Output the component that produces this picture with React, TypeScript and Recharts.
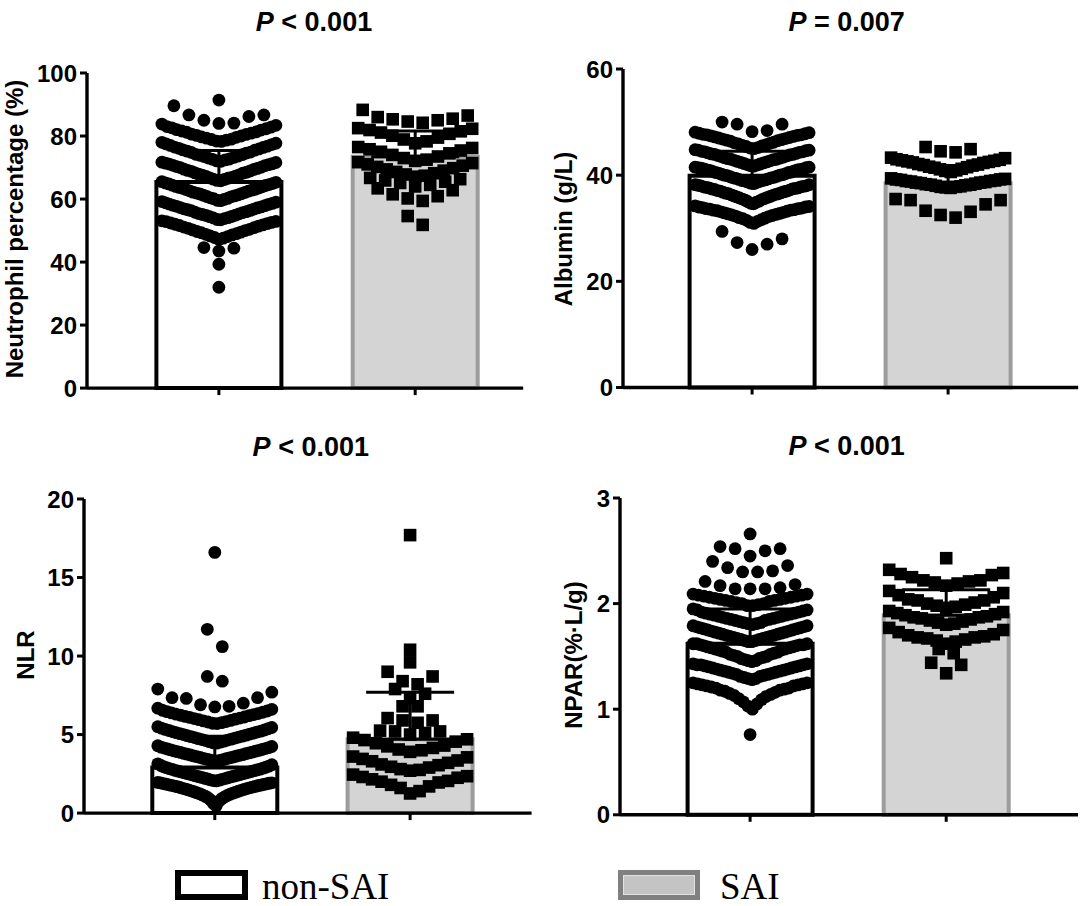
import React from "react";
import { ComposedChart, ReferenceArea, Scatter, ErrorBar, XAxis, YAxis } from "recharts";

// ---- data ----
const categories = ["non-SAI", "SAI"];

const neutroTicks = [0, 20, 40, 60, 80, 100];
const neutroMean = [65.4, 73.4];
const neutroSd = [10.0, 8.2];
const neutroNon = [
  91.4, 89.6, 86.7, 86.7, 86.2, 85.0, 84.0, 84.1,
  78.3, 78.4, 78.7, 78.9, 79.0, 79.3, 79.6, 79.7, 80.0, 80.2, 80.5, 80.6, 80.9, 81.2, 81.3, 81.6, 81.9, 82.0, 82.3, 82.6, 82.8, 83.0, 83.4, 83.8,
  72.0, 72.1, 72.4, 72.6, 72.7, 73.0, 73.2, 73.5, 73.6, 73.9, 74.1, 74.2, 74.6, 74.8, 74.9, 75.2, 75.5, 75.6, 75.9, 76.1, 76.4, 76.5, 76.8, 77.0, 77.3, 77.5, 77.7, 78.0,
  65.8, 65.9, 66.2, 66.3, 66.6, 66.7, 66.9, 67.2, 67.3, 67.6, 67.7, 67.9, 68.2, 68.3, 68.5, 68.8, 68.9, 69.1, 69.4, 69.5, 69.7, 70.0, 70.1, 70.3, 70.6, 70.7, 70.9, 71.1, 71.2, 71.4, 71.6, 71.7,
  59.5, 59.6, 59.9, 60.1, 60.2, 60.4, 60.7, 60.8, 61.0, 61.2, 61.3, 61.6, 61.7, 61.9, 62.1, 62.2, 62.5, 62.6, 62.8, 63.0, 63.1, 63.4, 63.5, 63.7, 63.9, 64.0, 64.3, 64.4, 64.6, 64.8, 64.9, 65.1, 65.3, 65.5,
  53.4, 53.5, 53.8, 54.0, 54.1, 54.4, 54.5, 54.8, 54.9, 55.1, 55.3, 55.4, 55.7, 55.8, 56.0, 56.3, 56.4, 56.6, 56.8, 56.9, 57.2, 57.3, 57.5, 57.7, 57.9, 58.0, 58.3, 58.4, 58.6, 58.8, 59.0, 59.2,
  47.2, 47.6, 47.8, 48.1, 48.3, 48.6, 48.8, 49.0, 49.3, 49.5, 49.7, 50.0, 50.2, 50.4, 50.7, 50.9, 51.1, 51.4, 51.6, 51.8, 52.0, 52.2, 52.4, 52.6, 52.8, 52.9, 53.1,
  44.6, 43.5, 44.4, 39.3, 32.0,
];
const neutroSai = [
  88.3, 86.5, 86.0, 85.5, 85.3, 85.0, 84.6, 84.2,
  82.5, 82.3, 81.9, 81.5, 81.1, 80.7, 80.1, 79.5, 78.9, 78.3, 77.7,
  76.5, 76.2, 75.8, 75.4, 75.0, 74.5, 74.0, 73.5, 73.0, 72.5, 72.1,
  71.7, 71.4, 71.0, 70.6, 70.2, 69.8, 69.4, 69.0, 68.6, 68.2, 67.8, 67.4, 67.1,
  66.7, 66.3, 65.9, 65.5, 65.1, 64.5, 64.0,
  63.4, 62.8, 61.5, 60.9, 60.2, 59.4,
  54.6, 51.8,
];

const albTicks = [0, 20, 40, 60];
const albMean = [39.9, 38.5];
const albSd = [4.6, 3.3];
const albNon = [
  50.0, 49.6, 49.6, 48.4, 48.2,
  45.0, 45.1, 45.2, 45.4, 45.5, 45.6, 45.7, 45.9, 46.0, 46.1, 46.2, 46.4, 46.5, 46.6, 46.7, 46.8, 46.9, 47.0, 47.1, 47.2, 47.3, 47.4, 47.5, 47.6, 47.6, 47.7, 47.8, 47.9, 48.0, 48.1,
  41.7, 41.8, 41.9, 42.0, 42.1, 42.2, 42.3, 42.4, 42.5, 42.6, 42.7, 42.8, 42.9, 43.0, 43.0, 43.1, 43.2, 43.3, 43.4, 43.5, 43.6, 43.7, 43.8, 43.9, 43.9, 44.0, 44.1, 44.2, 44.3, 44.4, 44.4, 44.5, 44.6, 44.7, 44.7, 44.8,
  38.4, 38.5, 38.6, 38.7, 38.8, 38.9, 39.0, 39.0, 39.1, 39.2, 39.3, 39.4, 39.5, 39.5, 39.6, 39.7, 39.8, 39.9, 40.0, 40.0, 40.1, 40.2, 40.3, 40.4, 40.5, 40.5, 40.6, 40.7, 40.8, 40.9, 41.0, 41.0, 41.1, 41.2, 41.2, 41.3, 41.4, 41.4, 41.5, 41.5,
  34.6, 34.7, 34.9, 35.0, 35.1, 35.3, 35.4, 35.5, 35.6, 35.7, 35.8, 35.9, 36.0, 36.1, 36.2, 36.3, 36.4, 36.5, 36.5, 36.6, 36.7, 36.8, 36.9, 37.0, 37.0, 37.1, 37.2, 37.3, 37.4, 37.4, 37.5, 37.6, 37.6, 37.7, 37.8, 37.8, 37.9, 38.0, 38.0, 38.1, 38.2, 38.2,
  30.9, 31.1, 31.3, 31.5, 31.6, 31.8, 31.9, 32.0, 32.2, 32.3, 32.4, 32.5, 32.6, 32.7, 32.8, 32.9, 33.0, 33.1, 33.2, 33.3, 33.4, 33.4, 33.5, 33.6, 33.7, 33.7, 33.8, 33.9, 34.0, 34.0, 34.1, 34.2,
  29.4, 28.0, 27.3, 27.0, 26.0,
];
const albSai = [
  45.3, 44.9, 44.5, 44.3,
  40.6, 40.8, 40.9, 41.1, 41.2, 41.4, 41.5, 41.6, 41.8, 41.9, 42.0, 42.1, 42.3, 42.4, 42.5, 42.6, 42.7, 42.8, 42.9, 43.0, 43.2, 43.3,
  37.6, 37.7, 37.8, 37.8, 37.9, 38.0, 38.1, 38.2, 38.2, 38.3, 38.4, 38.5, 38.6, 38.6, 38.7, 38.8, 38.9, 38.9, 39.0, 39.1, 39.2, 39.2, 39.3, 39.4,
  35.5, 35.3, 35.3, 34.5, 33.3, 33.1, 32.5, 32.0,
];

const nlrTicks = [0, 5, 10, 15, 20];
const nlrMean = [2.9, 4.7];
const nlrSd = [2.0, 3.0];
const nlrNon = [
  16.6, 11.7, 10.6, 8.7, 8.4,
  7.9, 7.7, 7.35, 7.35, 7.3, 7.0, 6.9, 6.8, 6.76,
  5.70, 5.72, 5.76, 5.80, 5.83, 5.87, 5.90, 5.95, 5.98, 6.02, 6.05, 6.09, 6.12, 6.16, 6.20, 6.23, 6.27, 6.30, 6.34, 6.38, 6.42, 6.46, 6.50, 6.55, 6.61, 6.68,
  4.45, 4.48, 4.52, 4.55, 4.58, 4.62, 4.65, 4.68, 4.71, 4.74, 4.78, 4.81, 4.84, 4.87, 4.90, 4.93, 4.96, 5.00, 5.03, 5.06, 5.09, 5.12, 5.16, 5.19, 5.22, 5.26, 5.29, 5.33, 5.37, 5.41, 5.45, 5.50,
  3.30, 3.33, 3.35, 3.38, 3.40, 3.43, 3.46, 3.48, 3.51, 3.54, 3.56, 3.59, 3.62, 3.64, 3.67, 3.70, 3.72, 3.75, 3.78, 3.80, 3.83, 3.86, 3.88, 3.91, 3.94, 3.96, 3.99, 4.02, 4.05, 4.08, 4.11, 4.14, 4.17, 4.20, 4.24, 4.29,
  2.05, 2.07, 2.10, 2.12, 2.15, 2.17, 2.20, 2.22, 2.25, 2.27, 2.30, 2.32, 2.35, 2.37, 2.40, 2.42, 2.45, 2.47, 2.50, 2.52, 2.55, 2.57, 2.60, 2.62, 2.65, 2.67, 2.70, 2.72, 2.75, 2.78, 2.80, 2.83, 2.86, 2.89, 2.92, 2.95, 2.99, 3.03, 3.08, 3.14,
  0.45, 0.62, 0.75, 0.84, 0.92, 0.98, 1.03, 1.08, 1.12, 1.16, 1.20, 1.24, 1.27, 1.30, 1.33, 1.36, 1.39, 1.42, 1.45, 1.48, 1.51, 1.53, 1.56, 1.58, 1.61, 1.63, 1.65, 1.68, 1.70, 1.72, 1.74, 1.76, 1.78, 1.80, 1.82, 1.84, 1.86, 1.88, 1.90, 1.92, 1.93, 1.95,
];
const nlrSai = [
  17.7, 10.4, 9.6, 9.0, 8.7, 8.4, 8.2, 7.9, 7.6, 7.3, 6.8, 6.8,
  6.05, 5.9, 5.9, 5.75, 5.25, 5.2, 5.2, 5.1, 5.0,
  4.8, 4.7, 4.65, 4.55, 4.45, 4.3, 4.25, 4.15, 4.05, 4.0, 3.9,
  3.6, 3.55, 3.45, 3.35, 3.3, 3.2, 3.1, 3.05, 2.95, 2.9, 2.8, 2.75, 2.7,
  2.45, 2.35, 2.3, 2.25, 2.15, 2.05, 2.0, 1.95, 1.8, 1.7, 1.6, 1.4, 1.25,
];

const nparTicks = [0, 1, 2, 3];
const nparMean = [1.62, 1.89];
const nparSd = [0.33, 0.24];
const nparNon = [
  2.66, 2.54, 2.52, 2.52, 2.50, 2.45,
  2.40, 2.36, 2.34, 2.31, 2.30, 2.30,
  2.21, 2.18, 2.17, 2.15, 2.14, 2.14, 2.14,
  1.98, 1.98, 1.99, 2.00, 2.00, 2.01, 2.02, 2.02, 2.03, 2.03, 2.04, 2.04, 2.05, 2.05, 2.06, 2.06, 2.07, 2.07, 2.08, 2.08, 2.09, 2.09,
  1.80, 1.81, 1.81, 1.82, 1.82, 1.83, 1.84, 1.84, 1.85, 1.85, 1.86, 1.86, 1.87, 1.87, 1.88, 1.88, 1.89, 1.89, 1.90, 1.90, 1.91, 1.91, 1.92, 1.92, 1.93, 1.94, 1.94, 1.95,
  1.64, 1.64, 1.65, 1.65, 1.66, 1.66, 1.67, 1.67, 1.68, 1.68, 1.69, 1.69, 1.70, 1.70, 1.71, 1.71, 1.72, 1.72, 1.73, 1.73, 1.74, 1.74, 1.75, 1.75, 1.76, 1.76, 1.77, 1.77, 1.78, 1.78, 1.79, 1.79,
  1.45, 1.46, 1.46, 1.47, 1.48, 1.48, 1.49, 1.50, 1.50, 1.51, 1.52, 1.52, 1.53, 1.54, 1.54, 1.55, 1.56, 1.56, 1.57, 1.57, 1.58, 1.58, 1.59, 1.59, 1.60, 1.60, 1.61, 1.61, 1.61, 1.62, 1.62, 1.62,
  1.28, 1.29, 1.29, 1.30, 1.31, 1.31, 1.32, 1.33, 1.33, 1.34, 1.34, 1.35, 1.35, 1.36, 1.36, 1.37, 1.37, 1.38, 1.38, 1.39, 1.39, 1.40, 1.40, 1.41, 1.41, 1.42, 1.42, 1.42, 1.43, 1.43,
  1.00, 1.03, 1.05, 1.07, 1.09, 1.10, 1.12, 1.13, 1.14, 1.15, 1.16, 1.17, 1.18, 1.18, 1.19, 1.20, 1.20, 1.21, 1.22, 1.22, 1.23, 1.23, 1.24, 1.24, 1.25, 1.25,
  0.76,
];
const nparSai = [
  2.43,
  2.32, 2.29, 2.28, 2.27, 2.25, 2.22, 2.22, 2.21, 2.20, 2.19, 2.17,
  2.12, 2.10, 2.08, 2.06, 2.04, 2.03, 2.03, 2.01, 2.00, 1.99, 1.98, 1.97, 1.96,
  1.93, 1.92, 1.91, 1.90, 1.89, 1.88, 1.87, 1.87, 1.86, 1.85, 1.84, 1.83, 1.82, 1.81, 1.80,
  1.77, 1.75, 1.73, 1.71, 1.70, 1.69, 1.68, 1.68, 1.67, 1.66, 1.65, 1.64, 1.62,
  1.57, 1.53,
  1.44, 1.42, 1.34,
];

// ---- layout ----
const FONT = "'Liberation Sans', Arial, Helvetica, sans-serif";
const SERIF = "'Liberation Serif', 'Times New Roman', serif";
const Y_W = 80;
const M_T = 22;
const M_R = 6;
const X_H = 22;
const BAR_PX = 125; // bar width in px (stroke centred on the edge)
const MAX_STEP = 15; // px between neighbours in a swarm row
const MAX_HALF = 57; // px, half width a row may spread to
const BAR_FILL = ["#ffffff", "#d4d4d4"];
const BAR_STROKE = ["#000000", "#9c9c9c"];

// row boundaries used to stack the dots the way Prism does
const neutroEdges = [
  [29, 35.5, 41, 47, 53.3, 59.35, 65.65, 71.85, 78.15, 83.95, 90.5, 96],
  [48, 58, 63.7, 66.9, 71.9, 76.8, 83.0, 92],
];
const albEdges = [
  [25, 29.6, 34.45, 38.3, 41.6, 44.9, 48.15, 52],
  [31, 37.5, 40.4, 43.6, 47],
];
const nlrEdges = [
  [0, 2.0, 3.2, 4.35, 5.6, 6.72, 8.0, 9.5, 13, 18],
  [1.0, 2.6, 3.75, 4.9, 5.5, 6.3, 7.0, 8.1, 9.3, 10.0, 11.0, 19],
];
const nparEdges = [
  [0.6, 0.98, 1.27, 1.44, 1.63, 1.795, 1.97, 2.1, 2.25, 2.43, 2.6, 2.8],
  [1.3, 1.45, 1.6, 1.78, 1.95, 2.15, 2.38, 2.6],
];

type PanelSpec = {
  key: string;
  left: number;
  right: number;
  top: number;
  bottom: number;
  tick1: number;
  tick2: number;
  yMax: number;
  ticks: number[];
  mean: number[];
  sd: number[];
  values: number[][];
  edges: number[][];
  pText: string;
  titleX: number;
  titleY: number;
  label: string;
  labelX: number;
  labelY: number;
};

const PANELS: PanelSpec[] = [
  {
    key: "neutro", left: 86.8, right: 523, top: 73.3, bottom: 388.4, tick1: 218.7, tick2: 415,
    yMax: 100, ticks: neutroTicks, mean: neutroMean, sd: neutroSd, values: [neutroNon, neutroSai], edges: neutroEdges,
    pText: " < 0.001", titleX: 314, titleY: 31, label: "Neutrophil percentage (%)", labelX: 22.5, labelY: 229,
  },
  {
    key: "alb", left: 622.6, right: 1077.8, top: 69.4, bottom: 387.9, tick1: 751.7, tick2: 947.7,
    yMax: 60, ticks: albTicks, mean: albMean, sd: albSd, values: [albNon, albSai], edges: albEdges,
    pText: " = 0.007", titleX: 846.7, titleY: 31.2, label: "Albumin (g/L)", labelX: 571.5, labelY: 229,
  },
  {
    key: "nlr", left: 84.4, right: 532, top: 498.5, bottom: 812.6, tick1: 215.2, tick2: 410.5,
    yMax: 20, ticks: nlrTicks, mean: nlrMean, sd: nlrSd, values: [nlrNon, nlrSai], edges: nlrEdges,
    pText: " < 0.001", titleX: 310.8, titleY: 456, label: "NLR", labelX: 33.5, labelY: 655,
  },
  {
    key: "npar", left: 619.8, right: 1077.8, top: 498.1, bottom: 814.9, tick1: 749.9, tick2: 946,
    yMax: 3, ticks: nparTicks, mean: nparMean, sd: nparSd, values: [nparNon, nparSai], edges: nparEdges,
    pText: " < 0.001", titleX: 846.7, titleY: 454.7, label: "NPAR(%·L/g)", labelX: 582, labelY: 655,
  },
];

// scatter-dot-plot layout: values in a row are sorted and fanned out from the centre
function swarm(values: number[], edges: number[], center: number, pxPerUnit: number) {
  const bins: number[][] = edges.slice(1).map(() => []);
  values.forEach((v) => {
    let i = bins.findIndex((_, k) => v >= edges[k] && v < edges[k + 1]);
    if (i < 0) i = v < edges[0] ? 0 : bins.length - 1;
    bins[i].push(v);
  });
  const pts: { x: number; y: number }[] = [];
  bins.forEach((b) => {
    b.sort((a, c) => a - c);
    const n = b.length;
    const step = n > 1 ? Math.min(MAX_STEP, (2 * MAX_HALF) / (n - 1)) : 0;
    b.forEach((v, i) => {
      const mag = n % 2 ? Math.ceil(i / 2) : Math.floor(i / 2) + 0.5;
      const side = (n - 1 - i) % 2 === 0 ? -1 : 1;
      pts.push({ x: center + (side * mag * step) / pxPerUnit, y: v });
    });
  });
  return pts;
}

const Dot = (props: any) => <circle cx={props.cx} cy={props.cy} r={6.4} fill="#000" />;
const Square = (props: any) => (
  <rect x={props.cx - 6.3} y={props.cy - 6.3} width={12.6} height={12.6} fill="#000" />
);
const Hidden = () => <g />;

function YTick(props: any) {
  const { x, y, payload } = props;
  return (
    <text x={x} y={y} dy="0.36em" textAnchor="end" fontFamily={FONT} fontWeight={700} fontSize={24} fill="#000">
      {payload.value}
    </text>
  );
}

function Panel({ p }: { p: PanelSpec }) {
  const u = p.tick2 - p.tick1;
  const xDomain = [1 - (p.tick1 - p.left) / u, 2 + (p.right - p.tick2) / u];
  const half = BAR_PX / 2 / u;
  // error bars point upwards only, as in the figure
  const barData = categories.map((c, i) => ({ name: c, x: i + 1, y: p.mean[i], err: [0, p.sd[i]] }));
  const nonPts = swarm(p.values[0], p.edges[0], 1, u);
  const saiPts = swarm(p.values[1], p.edges[1], 2, u);
  const w = Y_W + (p.right - p.left) + M_R;
  const h = M_T + (p.bottom - p.top) + X_H;

  return (
    <div style={{ position: "absolute", left: p.left - Y_W, top: p.top - M_T }}>
      <ComposedChart width={w} height={h} data={barData} margin={{ top: M_T, right: M_R, bottom: 0, left: 0 }}>
        <XAxis
          type="number"
          dataKey="x"
          domain={xDomain}
          ticks={[1, 2]}
          allowDataOverflow
          height={X_H}
          tickSize={7}
          tickFormatter={() => ""}
          axisLine={{ stroke: "#000", strokeWidth: 3.4 }}
          tickLine={{ stroke: "#000", strokeWidth: 3 }}
        />
        <YAxis
          type="number"
          dataKey="y"
          domain={[0, p.yMax]}
          ticks={p.ticks}
          interval={0}
          allowDataOverflow
          width={Y_W}
          tickSize={7}
          tickMargin={3}
          tick={<YTick />}
          axisLine={{ stroke: "#000", strokeWidth: 3.4 }}
          tickLine={{ stroke: "#000", strokeWidth: 3 }}
        />
        {barData.map((d, i) => (
          <ReferenceArea
            key={d.name}
            x1={d.x - half}
            x2={d.x + half}
            y1={0}
            y2={d.y}
            fill={BAR_FILL[i]}
            fillOpacity={1}
            stroke={BAR_STROKE[i]}
            strokeWidth={4}
            ifOverflow="visible"
          />
        ))}
        <Scatter data={barData} dataKey="y" shape={Hidden} isAnimationActive={false}>
          <ErrorBar dataKey="err" direction="y" width={44} stroke="#000" strokeWidth={3} isAnimationActive={false} />
        </Scatter>
        <Scatter data={nonPts} dataKey="y" shape={Dot} isAnimationActive={false} />
        <Scatter data={saiPts} dataKey="y" shape={Square} isAnimationActive={false} />
      </ComposedChart>
    </div>
  );
}

export default function App() {
  return (
    <div style={{ position: "absolute", left: 0, top: 0, width: 1084, height: 906, background: "#fff", overflow: "hidden" }}>
      {PANELS.map((p) => (
        <Panel key={p.key} p={p} />
      ))}
      <svg width={1084} height={906} style={{ position: "absolute", left: 0, top: 0, pointerEvents: "none" }}>
        {PANELS.map((p) => (
          <g key={p.key}>
            <text x={p.titleX} y={p.titleY} textAnchor="middle" fontFamily={FONT} fontWeight={700} fontSize={27} fill="#000">
              <tspan fontStyle="italic">P</tspan>
              {p.pText}
            </text>
            <text
              transform={`translate(${p.labelX},${p.labelY}) rotate(-90)`}
              textAnchor="middle"
              fontFamily={FONT}
              fontWeight={700}
              fontSize={24}
              fill="#000"
            >
              {p.label}
            </text>
          </g>
        ))}
        {/* legend */}
        <rect x={178} y={873} width={67} height={24} fill="#fff" stroke="#000" strokeWidth={6} />
        <text x={262} y={899} fontFamily={SERIF} fontSize={37} fill="#000">
          {categories[0]}
        </text>
        <rect x={620.5} y={872.5} width={77} height={25} fill="#c4c4c4" stroke="#808080" strokeWidth={5} />
        <rect x={623.5} y={875.5} width={71} height={19} fill="none" stroke="#e2e2e2" strokeWidth={1} />
        <text x={720} y={899} fontFamily={SERIF} fontSize={37} fill="#000">
          {categories[1]}
        </text>
      </svg>
    </div>
  );
}
